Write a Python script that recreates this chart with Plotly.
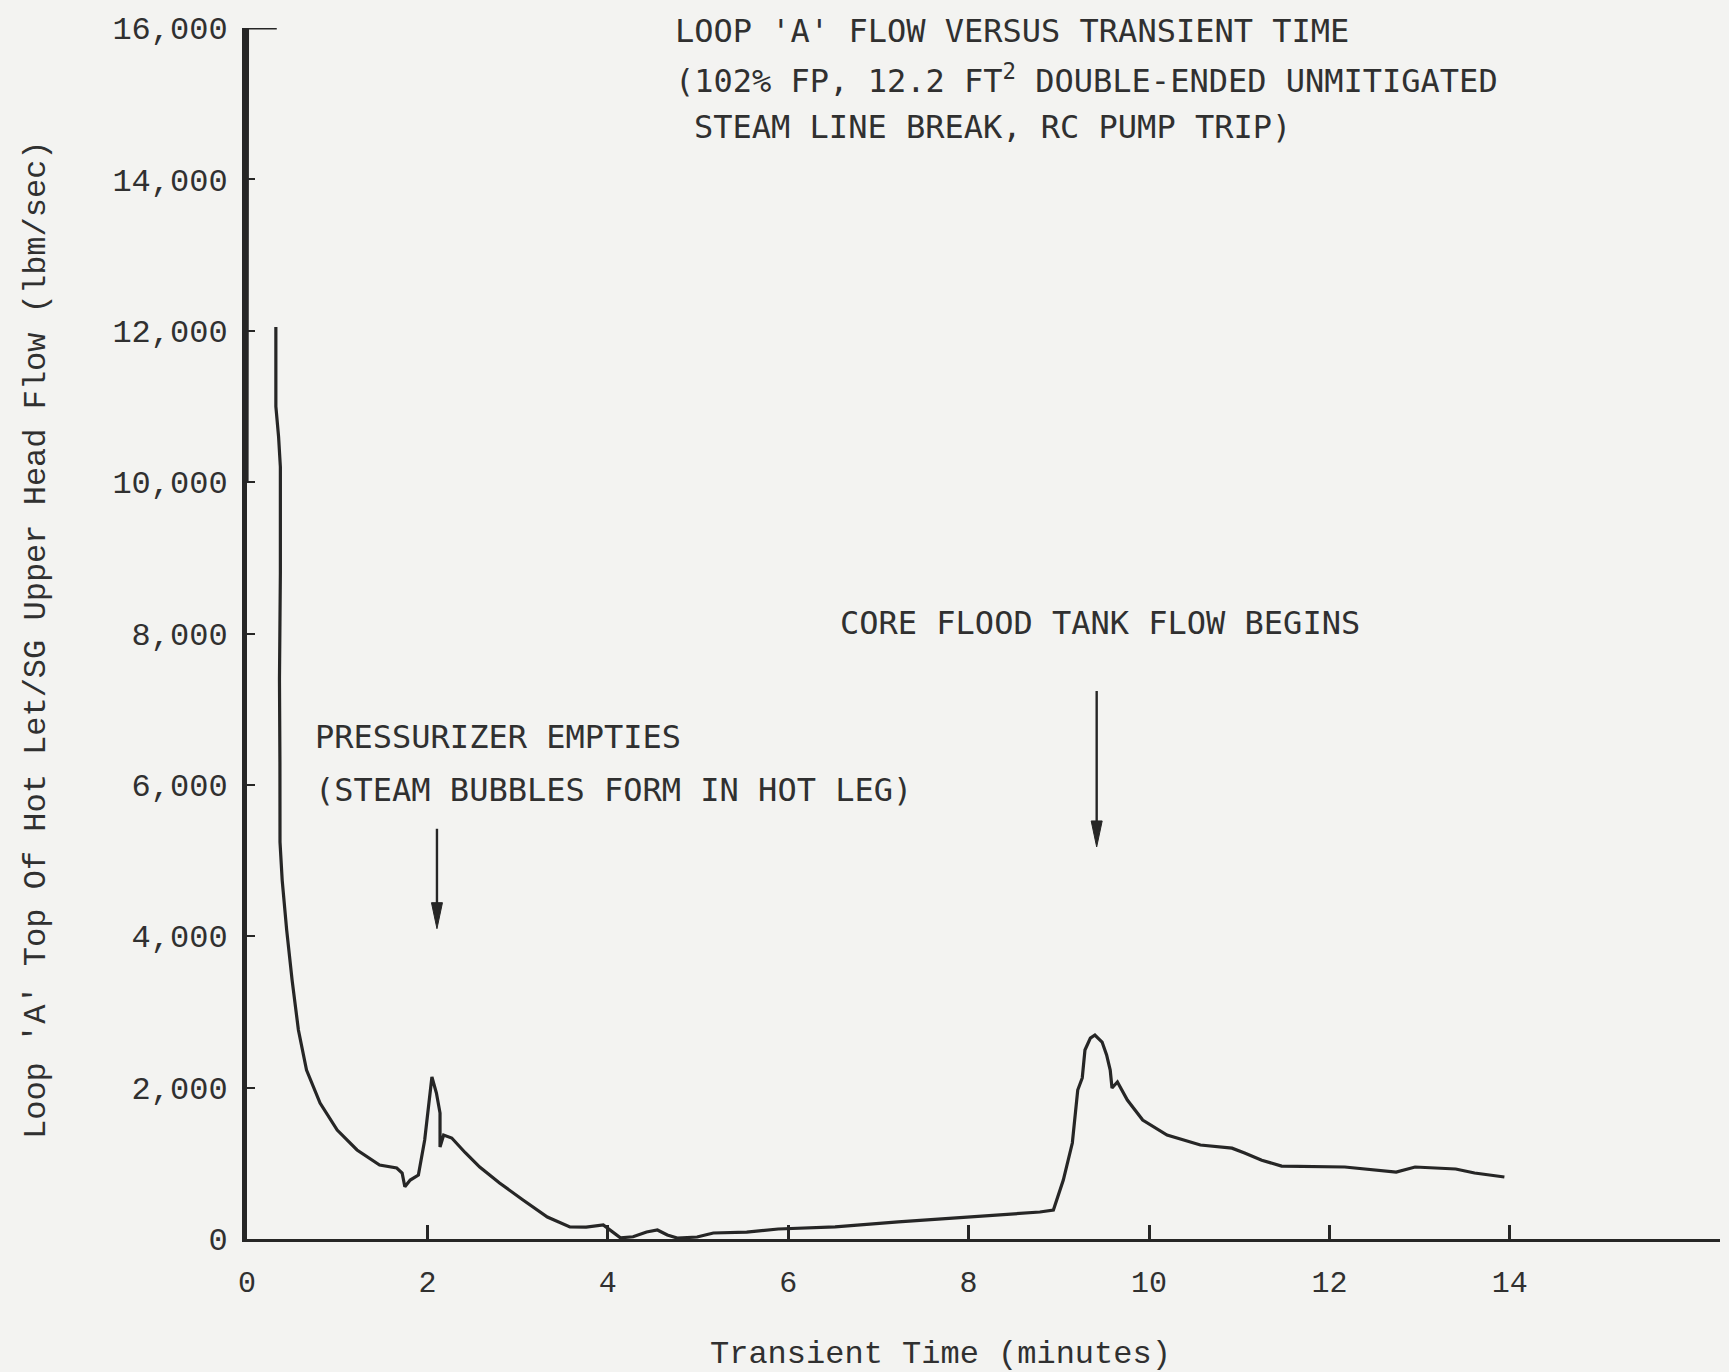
import plotly.graph_objects as go

# ---------------- data ----------------
time_min = [0.00, 0.005, 0.33, None,
            0.32, 0.32, 0.35, 0.37, 0.37, 0.36, 0.365, 0.366, 0.39, 0.44, 0.50,
            0.57, 0.66, 0.81, 1.00, 1.22, 1.47, 1.66, 1.72, 1.75, 1.81, 1.90,
            1.97, 2.05, 2.10, 2.14, 2.14, 2.18, 2.27, 2.42, 2.58, 2.80, 3.06,
            3.33, 3.58, 3.76, 3.95, 4.06, 4.14, 4.28, 4.43, 4.55, 4.66, 4.77,
            4.99, 5.17, 5.54, 5.89, 6.13, 6.52, 7.22, 7.83, 8.26, 8.79, 8.94,
            9.05, 9.15, 9.21, 9.26, 9.29, 9.35, 9.40, 9.48, 9.53, 9.57, 9.59,
            9.65, 9.76, 9.93, 10.20, 10.57, 10.92, 11.06, 11.25, 11.47, 12.17,
            12.74, 12.95, 13.40, 13.61, 13.94]
flow_lbm_s = [10000, 16000, 16000, None,
              12050, 11000, 10600, 10200, 8800, 7400, 6300, 5244, 4742, 4082, 3421,
              2761, 2232, 1797, 1440, 1176, 977, 938, 872, 690, 779, 845,
              1308, 2140, 1929, 1664, 1215, 1374, 1334, 1140, 951, 740, 515,
              290, 160, 158, 185, 90, 15, 30, 92, 119, 53, 13,
              26, 79, 92, 132, 145, 160, 225, 277, 317, 357, 383,
              779, 1268, 1968, 2127, 2497, 2655, 2695, 2602, 2431, 2232, 1995,
              2074, 1836, 1572, 1374, 1242, 1200, 1136, 1040, 964, 951,
              885, 951, 925, 872, 819]

x_tick_vals = [0, 2, 4, 6, 8, 10, 12, 14]
x_tick_text = ["0", "2", "4", "6", "8", "10", "12", "14"]
y_tick_vals = [0, 2000, 4000, 6000, 8000, 10000, 12000, 14000, 16000]
y_tick_text = ["0", "2,000", "4,000", "6,000", "8,000", "10,000", "12,000", "14,000", "16,000"]

title_lines = ["LOOP 'A' FLOW VERSUS TRANSIENT TIME",
               "(102% FP, 12.2 FT<sup>2</sup> DOUBLE-ENDED UNMITIGATED",
               "STEAM LINE BREAK, RC PUMP TRIP)"]
note_pzr = ["PRESSURIZER EMPTIES", "(STEAM BUBBLES FORM IN HOT LEG)"]
note_cft = "CORE FLOOD TANK FLOW BEGINS"
x_title = "Transient Time (minutes)"
y_title = "Loop 'A' Top Of Hot Let/SG Upper Head Flow (lbm/sec)"

# event arrows: time, arrow-tip flow level, arrow-tail flow level
arrow_time = [2.106, 9.42]
arrow_tip = [4100, 5180]
arrow_tail = [5420, 7240]

# ---------------- styling ----------------
INK = "#262626"
TXT = "#303030"
BG = "#f3f3f1"
MONO = "DejaVu Sans Mono, Liberation Mono, monospace"
TYPE = "Liberation Mono, DejaVu Sans Mono, monospace"

W, H = 1729, 1372
ML, MR, MT, MB = 247, 9, 28, 133
plot_w = W - ML - MR
plot_h = H - MT - MB
px_per_min = 90.2
x_max = plot_w / px_per_min
flow_per_px = 16000 / plot_h

fig = go.Figure()
fig.add_trace(go.Scatter(
    x=time_min, y=flow_lbm_s, mode="lines",
    line=dict(color=INK, width=3.2), connectgaps=False,
    cliponaxis=False, showlegend=False, hoverinfo="skip"))

def px_x(px):
    return (px - ML) / plot_w

def px_y(py):
    return (H - MB - py) / plot_h

# arrows as shapes (shaft + filled head), sized in pixels
head_half_w = 5.5 / px_per_min
head_h = 26 * flow_per_px
shapes = []
for t, tip, tail in zip(arrow_time, arrow_tip, arrow_tail):
    shapes.append(dict(type="line", xref="x", yref="y", x0=t, x1=t, y0=tail, y1=tip + head_h * 0.6,
                       line=dict(color=INK, width=2.4)))
    shapes.append(dict(type="path", xref="x", yref="y",
                       path=f"M {t - head_half_w},{tip + head_h} L {t + head_half_w},{tip + head_h} L {t},{tip} Z",
                       fillcolor=INK, line=dict(color=INK, width=1)))

annotations = []
title_pos = [(673, 31), (673, 79), (692, 127)]
for txt, (lx, cy) in zip(title_lines, title_pos):
    annotations.append(dict(text=txt, xref="paper", yref="paper", x=px_x(lx), y=px_y(cy),
                            xanchor="left", yanchor="middle", showarrow=False,
                            font=dict(family=MONO, size=32, color=TXT)))
for txt, cy in zip(note_pzr, [737, 790]):
    annotations.append(dict(text=txt, xref="paper", yref="paper", x=px_x(313), y=px_y(cy),
                            xanchor="left", yanchor="middle", showarrow=False,
                            font=dict(family=MONO, size=32, color=TXT)))
annotations.append(dict(text=note_cft, xref="paper", yref="paper", x=px_x(838), y=px_y(623),
                        xanchor="left", yanchor="middle", showarrow=False,
                        font=dict(family=MONO, size=32, color=TXT)))
annotations.append(dict(text=x_title, xref="paper", yref="paper", x=px_x(940), y=px_y(1354),
                        xanchor="center", yanchor="middle", showarrow=False,
                        font=dict(family=TYPE, size=32, color=TXT)))
annotations.append(dict(text=y_title, xref="paper", yref="paper", x=px_x(36), y=px_y(640),
                        xanchor="center", yanchor="middle", textangle=-90, showarrow=False,
                        font=dict(family=TYPE, size=32, color=TXT)))

fig.update_layout(
    width=W, height=H, autosize=False,
    margin=dict(l=ML, r=MR, t=MT, b=MB, pad=0),
    paper_bgcolor=BG, plot_bgcolor=BG,
    showlegend=False,
    annotations=annotations,
    shapes=shapes,
    xaxis=dict(range=[0, x_max], tickvals=x_tick_vals, ticktext=x_tick_text,
               ticks="inside", ticklen=14, tickwidth=2.5, tickcolor=INK,
               showline=True, linewidth=3, linecolor=INK, showgrid=False, zeroline=False,
               tickfont=dict(family=TYPE, size=30, color=TXT), ticklabelstandoff=14),
    yaxis=dict(range=[0, 16000], tickvals=y_tick_vals, ticktext=y_tick_text,
               ticks="inside", ticklen=8, tickwidth=2, tickcolor=INK,
               showline=True, linewidth=5, linecolor=INK, showgrid=False, zeroline=False,
               tickfont=dict(family=TYPE, size=32, color=TXT), ticklabelstandoff=8),
)

fig.write_html("out.html", config={"displayModeBar": False},
               post_script="document.body.style.margin='0';")
